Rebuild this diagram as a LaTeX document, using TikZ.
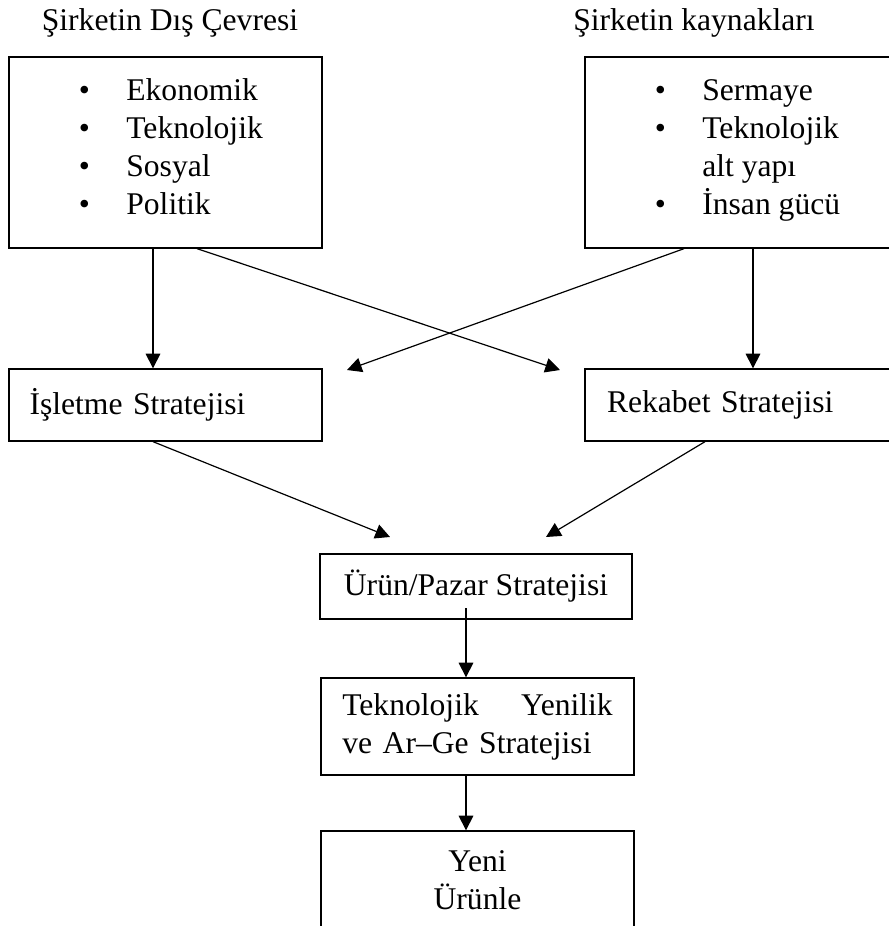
\documentclass[tikz,border=0pt]{standalone}
\usepackage{fontspec}
\setmainfont{Liberation Serif}
\usetikzlibrary{arrows.meta}
\newcommand{\yazi}{\fontsize{23.7pt}{28.5pt}\selectfont}
\tikzset{
kutu/.style={draw, line width=1pt, inner sep=0pt, font=\yazi},
liste/.style={inner sep=0pt, anchor=north west, font=\yazi},
ok/.style={line width=0.9pt, -{Triangle[length=11pt,width=11pt]}}
}

\begin{document}
\begin{tikzpicture}[x=0.75pt,y=-0.75pt]
\useasboundingbox (0,0) rectangle (889,926);
% basliklar
\node[font=\yazi, anchor=base] (dist) at (170,30) {Şirketin Dış Çevresi};
\node[font=\yazi, anchor=base] (kayt) at (694,30) {Şirketin kaynakları};
% ust kutular
\node[kutu, minimum width=234.75pt, minimum height=143.25pt] (dis) at (165.5,152.5) {};
\node[kutu, minimum width=231pt, minimum height=143.25pt] (kay) at (739,152.5) {};
\node[liste] (disliste) at (78.5,73.4) {\begin{tabular}{@{}l@{\hspace{27.4pt}}l@{}}
\textbullet & Ekonomik\\
\textbullet & Teknolojik\\
\textbullet & Sosyal\\
\textbullet & Politik
\end{tabular}};
\node[liste] (kayliste) at (654.5,73.4) {\begin{tabular}{@{}l@{\hspace{27.4pt}}l@{}}
\textbullet & Sermaye\\
\textbullet & Teknolojik\\
 & alt yapı\\
\textbullet & İnsan gücü
\end{tabular}};
% strateji kutulari
\node[kutu, inner xsep=15.4pt, text width=204pt, align=left, minimum height=54pt] (isl) at (165.5,405) {İşletme Stratejisi};
\node[kutu, inner xsep=16.5pt, text width=198pt, align=left, minimum height=54pt] (rek) at (739,405) {Rekabet Stratejisi};
\node[kutu, align=center, minimum width=234pt, minimum height=48.75pt] (urun) at (476,586.5) {Ürün/Pazar Stratejisi};
\node[kutu, inner xsep=16pt, text width=202.75pt, align=left, minimum height=72.75pt] (tek) at (477.5,726.5) {Teknolojik \hfill Yenilik\\ve Ar–Ge Stratejisi};
\node[kutu, align=center, minimum width=234.75pt, minimum height=73.5pt] (yeni) at (477.5,880) {Yeni\\Ürünle};
% serbest uclar
\coordinate (islust) at (347,370);
\coordinate (rekust) at (560,370);
\coordinate (urunsol) at (390,537);
\coordinate (urunsag) at (546,537);
\coordinate (urunalt) at (466,608);
% oklar
\draw[ok] (153,0 |- dis.south) -- (153,0 |- isl.north);
\draw[ok] (753,0 |- kay.south) -- (753,0 |- rek.north);
\draw[ok] (197,0 |- dis.south) -- (rekust);
\draw[ok] (684,0 |- kay.south) -- (islust);
\draw[ok] (153,0 |- isl.south) -- (urunsol);
\draw[ok] (705,0 |- rek.south) -- (urunsag);
\draw[ok] (urunalt) -- (466,0 |- tek.north);
\draw[ok] (466,0 |- tek.south) -- (466,0 |- yeni.north);
\end{tikzpicture}
\end{document}
